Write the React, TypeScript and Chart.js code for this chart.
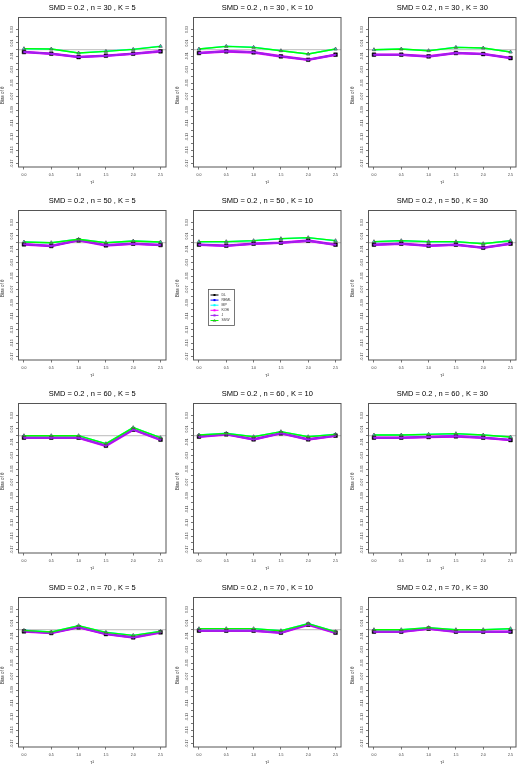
import React, { useEffect, useRef } from "react";
import { Chart, registerables } from "chart.js";

Chart.register(...registerables);

// ---- data ----
const TAU2 = [0.0, 0.5, 1.0, 1.5, 2.0, 2.5];
const X_TICKS = [0.0, 0.5, 1.0, 1.5, 2.0, 2.5];
const X_TICK_LABELS = ["0.0", "0.5", "1.0", "1.5", "2.0", "2.5"];
const Y_TICKS = [
  0.03, 0.02, 0.01, 0.0, -0.01, -0.02, -0.03, -0.04, -0.05, -0.06, -0.07,
  -0.08, -0.09, -0.1, -0.11, -0.12, -0.13, -0.14, -0.15, -0.16, -0.17,
];
const Y_TICK_LABELS = [
  "0.03", "", "0.01", "", "-0.01", "", "-0.03", "", "-0.05", "", "-0.07",
  "", "-0.09", "", "-0.11", "", "-0.13", "", "-0.15", "", "-0.17",
];
const N_VALUES = [30, 50, 60, 70];
const K_VALUES = [5, 10, 30];
const METHODS = ["DL", "REML", "MP", "KOB", "J", "SSW"];
const METHOD_COLORS = ["#000000", "#0000FF", "#00FFFF", "#FF00FF", "#A020F0", "#00FF00"];

// n = 30
const DL_n30_K5 = [-0.0035, -0.006, -0.011, -0.009, -0.006, -0.0025];
const SSW_n30_K5 = [0.0015, 0.001, -0.005, -0.0025, 0.0005, 0.005];
const DL_n30_K10 = [-0.005, -0.0025, -0.004, -0.01, -0.015, -0.0075];
const SSW_n30_K10 = [0.001, 0.005, 0.0035, -0.0015, -0.0065, 0.001];
const DL_n30_K30 = [-0.0075, -0.0075, -0.01, -0.005, -0.0065, -0.0125];
const SSW_n30_K30 = [0.0, 0.001, -0.0015, 0.0035, 0.0025, -0.0035];
// n = 50
const DL_n50_K5 = [-0.0025, -0.005, 0.0035, -0.004, -0.0015, -0.0035];
const SSW_n50_K5 = [0.001, 0.0, 0.005, 0.0, 0.0025, 0.001];
const DL_n50_K10 = [-0.003, -0.0045, -0.0015, 0.0, 0.003, -0.003];
const SSW_n50_K10 = [0.0015, 0.0015, 0.003, 0.006, 0.0075, 0.003];
const DL_n50_K30 = [-0.003, -0.0015, -0.0045, -0.003, -0.0075, -0.0015];
const SSW_n50_K30 = [0.0015, 0.003, 0.0015, 0.0015, -0.0015, 0.003];
// n = 60
const DL_n60_K5 = [-0.003, -0.003, -0.003, -0.015, 0.009, -0.006];
const SSW_n60_K5 = [0.0, 0.0, 0.0, -0.012, 0.012, -0.003];
const DL_n60_K10 = [-0.0015, 0.002, -0.0055, 0.0035, -0.0055, 0.0];
const SSW_n60_K10 = [0.001, 0.0035, -0.0015, 0.006, -0.0015, 0.002];
const DL_n60_K30 = [-0.003, -0.003, -0.002, -0.001, -0.003, -0.0065];
const SSW_n60_K30 = [0.001, 0.001, 0.002, 0.003, 0.001, -0.002];
// n = 70
const DL_n70_K5 = [-0.0025, -0.005, 0.0035, -0.0065, -0.0115, -0.004];
const SSW_n70_K5 = [-0.001, -0.0035, 0.006, -0.004, -0.0085, -0.0025];
const DL_n70_K10 = [-0.0015, -0.0015, -0.0015, -0.0045, 0.0075, -0.0045];
const SSW_n70_K10 = [0.0015, 0.0015, 0.0015, -0.0015, 0.009, -0.003];
const DL_n70_K30 = [-0.003, -0.003, 0.0015, -0.003, -0.003, -0.003];
const SSW_n70_K30 = [0.0, 0.0, 0.003, 0.0, 0.0, 0.0015];

const DL_ROWS = [
  [DL_n30_K5, DL_n30_K10, DL_n30_K30],
  [DL_n50_K5, DL_n50_K10, DL_n50_K30],
  [DL_n60_K5, DL_n60_K10, DL_n60_K30],
  [DL_n70_K5, DL_n70_K10, DL_n70_K30],
];
const SSW_ROWS = [
  [SSW_n30_K5, SSW_n30_K10, SSW_n30_K30],
  [SSW_n50_K5, SSW_n50_K10, SSW_n50_K30],
  [SSW_n60_K5, SSW_n60_K10, SSW_n60_K30],
  [SSW_n70_K5, SSW_n70_K10, SSW_n70_K30],
];

const FONT = "'Liberation Sans', Arial, sans-serif";
const CELL_W = 175;
const CELL_H = 193;

function xy(vals: number[]) {
  return TAU2.map((x, i) => ({ x, y: vals[i] }));
}

function Panel(props: { row: number; col: number }) {
  const { row, col } = props;
  const ref = useRef<HTMLCanvasElement | null>(null);

  useEffect(() => {
    const canvas = ref.current;
    if (!canvas) return;
    const dl = DL_ROWS[row][col];
    const ssw = SSW_ROWS[row][col];
    const title = `SMD = 0.2 , n = ${N_VALUES[row]} , K = ${K_VALUES[col]}`;
    const showLegend = row === 1 && col === 1;

    // per-method series (several methods coincide with DL / SSW)
    const seriesVals = [dl, dl, ssw, dl, dl, ssw];
    const orders = [2, 5, 4, 3, 1, 0];
    const widths = [1, 1.5, 1.5, 2.6, 2, 1.4];
    const styles: any[] = ["rect", "rect", "triangle", "triangle", "circle", "triangle"];
    const radii = [2.6, 1.5, 1.5, 1.5, 0.8, 2.0];

    const datasets = METHODS.map((m, i) => ({
      label: m,
      data: xy(seriesVals[i]),
      borderColor: METHOD_COLORS[i],
      backgroundColor: i === 5 ? "rgba(0,0,0,0)" : METHOD_COLORS[i],
      pointBorderColor: i === 5 ? "#555555" : METHOD_COLORS[i],
      pointBackgroundColor: i === 5 ? "rgba(0,0,0,0)" : METHOD_COLORS[i],
      pointBorderWidth: i === 5 ? 0.8 : 0.5,
      borderWidth: widths[i],
      pointStyle: styles[i],
      pointRadius: radii[i],
      order: orders[i],
      tension: 0,
      fill: false,
    }));

    const decor = {
      id: "decor",
      beforeDatasetsDraw(chart: any) {
        const { ctx, chartArea } = chart;
        const y0 = chart.scales.y.getPixelForValue(0);
        ctx.save();
        ctx.strokeStyle = "#C8C8C8";
        ctx.lineWidth = 1.3;
        ctx.beginPath();
        ctx.moveTo(chartArea.left, y0);
        ctx.lineTo(chartArea.right, y0);
        ctx.stroke();
        ctx.restore();
      },
      afterDraw(chart: any) {
        const { ctx, chartArea } = chart;
        const xs = chart.scales.x;
        const ys = chart.scales.y;
        ctx.save();
        // box
        ctx.strokeStyle = "#555555";
        ctx.lineWidth = 1;
        ctx.strokeRect(
          chartArea.left,
          chartArea.top,
          chartArea.right - chartArea.left,
          chartArea.bottom - chartArea.top
        );
        const cx = (chartArea.left + chartArea.right) / 2;
        // title
        ctx.fillStyle = "#000000";
        ctx.font = `7.5px ${FONT}`;
        ctx.textAlign = "center";
        ctx.textBaseline = "middle";
        ctx.fillText(title, cx, 7.5);
        // x tick labels
        ctx.fillStyle = "#333333";
        ctx.font = `3.5px ${FONT}`;
        X_TICKS.forEach((v, i) => {
          ctx.fillText(X_TICK_LABELS[i], xs.getPixelForValue(v), chartArea.bottom + 8);
        });
        // x label
        ctx.font = `4.5px ${FONT}`;
        ctx.fillText("τ²", cx, chartArea.bottom + 16);
        // y tick labels (rotated)
        ctx.font = `3.5px ${FONT}`;
        Y_TICKS.forEach((v, i) => {
          const lab = Y_TICK_LABELS[i];
          if (!lab) return;
          const py = ys.getPixelForValue(v);
          ctx.save();
          ctx.translate(chartArea.left - 6.2, py);
          ctx.rotate(-Math.PI / 2);
          ctx.fillText(lab, 0, 0);
          ctx.restore();
        });
        // y label
        ctx.save();
        ctx.font = `4.5px ${FONT}`;
        ctx.translate(3, (chartArea.top + chartArea.bottom) / 2 + 3);
        ctx.rotate(-Math.PI / 2);
        ctx.fillText("Bias of θ", 0, 0);
        ctx.restore();

        // legend
        if (showLegend) {
          const lx = chartArea.left + 15;
          const ly = chartArea.top + 79;
          const lw = 26;
          const lh = 36;
          ctx.fillStyle = "#FFFFFF";
          ctx.fillRect(lx, ly, lw, lh);
          ctx.strokeStyle = "#555555";
          ctx.lineWidth = 0.8;
          ctx.strokeRect(lx, ly, lw, lh);
          METHODS.forEach((m, i) => {
            const ey = ly + 5.5 + i * 5.1;
            ctx.strokeStyle = METHOD_COLORS[i];
            ctx.lineWidth = 1;
            ctx.beginPath();
            ctx.moveTo(lx + 2, ey);
            ctx.lineTo(lx + 10, ey);
            ctx.stroke();
            ctx.fillStyle = METHOD_COLORS[i];
            if (i === 5) {
              ctx.beginPath();
              ctx.moveTo(lx + 6, ey - 1.3);
              ctx.lineTo(lx + 7.3, ey + 1);
              ctx.lineTo(lx + 4.7, ey + 1);
              ctx.closePath();
              ctx.strokeStyle = "#555555";
              ctx.lineWidth = 0.5;
              ctx.stroke();
            } else {
              ctx.fillRect(lx + 5, ey - 1, 2, 2);
            }
            ctx.fillStyle = "#333333";
            ctx.font = `3.5px ${FONT}`;
            ctx.textAlign = "left";
            ctx.fillText(m, lx + 13, ey);
          });
        }
        ctx.restore();
      },
    };

    const chart = new Chart(canvas, {
      type: "line",
      data: { datasets: datasets as any },
      options: {
        animation: false,
        responsive: false,
        maintainAspectRatio: false,
        layout: { padding: { left: 18.5, right: 9, top: 17.5, bottom: 26 } },
        plugins: {
          legend: { display: false },
          tooltip: { enabled: false },
          title: { display: false },
        },
        scales: {
          x: {
            type: "linear",
            min: -0.1,
            max: 2.6,
            afterBuildTicks: (s: any) => {
              s.ticks = X_TICKS.map((v) => ({ value: v }));
            },
            afterFit: (s: any) => {
              s.height = 0;
            },
            grid: {
              drawOnChartArea: false,
              drawTicks: true,
              tickLength: 2.5,
              color: "#555555",
              lineWidth: 0.8,
            },
            border: { display: false },
            ticks: { display: false },
          },
          y: {
            type: "linear",
            min: -0.175,
            max: 0.048,
            afterBuildTicks: (s: any) => {
              s.ticks = Y_TICKS.map((v) => ({ value: v }));
            },
            afterFit: (s: any) => {
              s.width = 0;
            },
            grid: {
              drawOnChartArea: false,
              drawTicks: true,
              tickLength: 2.5,
              color: "#555555",
              lineWidth: 0.8,
            },
            border: { display: false },
            ticks: { display: false },
          },
        },
      },
      plugins: [decor],
    });
    return () => chart.destroy();
  }, [row, col]);

  return (
    <canvas
      ref={ref}
      width={CELL_W}
      height={CELL_H}
      style={{
        position: "absolute",
        left: col * CELL_W,
        top: Math.round(row * 193.2),
        width: CELL_W,
        height: CELL_H,
      }}
    />
  );
}

export default function App() {
  const cells: any[] = [];
  for (let r = 0; r < 4; r++) {
    for (let c = 0; c < 3; c++) {
      cells.push(<Panel key={`${r}-${c}`} row={r} col={c} />);
    }
  }
  return (
    <div
      style={{
        position: "fixed",
        left: 0,
        top: 0,
        width: 525,
        height: 770,
        background: "#FFFFFF",
        overflow: "hidden",
      }}
    >
      {cells}
    </div>
  );
}
